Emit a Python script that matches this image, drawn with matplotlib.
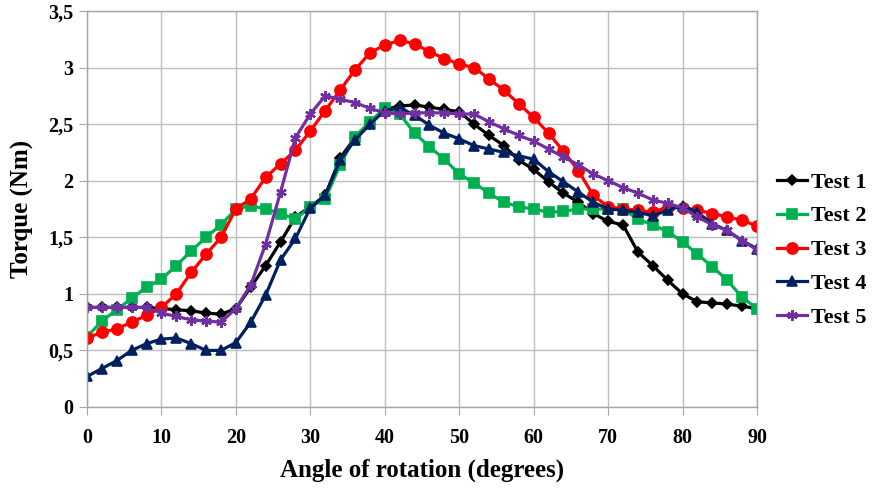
import matplotlib
matplotlib.use("Agg")
import matplotlib.pyplot as plt
from matplotlib.ticker import FuncFormatter, MultipleLocator

angles = list(range(0, 91, 2))

test1 = [0.88, 0.88, 0.88, 0.88, 0.88, 0.87, 0.86, 0.85, 0.83, 0.82,
         0.87, 1.06, 1.25, 1.46, 1.68, 1.77, 1.87, 2.20, 2.38, 2.50,
         2.63, 2.66, 2.67, 2.65, 2.63, 2.61, 2.50, 2.40, 2.31, 2.18,
         2.10, 1.99, 1.89, 1.81, 1.71, 1.64, 1.61, 1.37, 1.25, 1.12,
         1.00, 0.93, 0.92, 0.91, 0.89, 0.87]
test2 = [0.62, 0.76, 0.86, 0.96, 1.06, 1.13, 1.25, 1.38, 1.50, 1.61,
         1.75, 1.78, 1.75, 1.71, 1.66, 1.77, 1.84, 2.14, 2.39, 2.52,
         2.64, 2.59, 2.42, 2.30, 2.19, 2.06, 1.98, 1.89, 1.81, 1.77,
         1.75, 1.72, 1.73, 1.75, 1.75, 1.75, 1.75, 1.66, 1.61, 1.55,
         1.46, 1.35, 1.24, 1.12, 0.97, 0.87]
test3 = [0.61, 0.66, 0.69, 0.75, 0.81, 0.88, 1.00, 1.19, 1.35, 1.50,
         1.75, 1.84, 2.03, 2.15, 2.27, 2.44, 2.62, 2.80, 2.98, 3.13,
         3.20, 3.24, 3.21, 3.14, 3.08, 3.03, 3.00, 2.90, 2.80, 2.68,
         2.56, 2.42, 2.26, 2.09, 1.87, 1.77, 1.75, 1.74, 1.72, 1.77,
         1.76, 1.74, 1.71, 1.68, 1.65, 1.60]
test4 = [0.27, 0.34, 0.41, 0.50, 0.56, 0.60, 0.61, 0.56, 0.50, 0.50,
         0.57, 0.75, 0.99, 1.30, 1.49, 1.76, 1.87, 2.18, 2.36, 2.50,
         2.62, 2.645, 2.58, 2.49, 2.42, 2.37, 2.31, 2.28, 2.25, 2.22,
         2.19, 2.08, 1.99, 1.90, 1.81, 1.75, 1.74, 1.72, 1.69, 1.74,
         1.78, 1.72, 1.62, 1.56, 1.47, 1.40]
test5 = [0.88, 0.88, 0.88, 0.88, 0.88, 0.83, 0.80, 0.77, 0.76, 0.75,
         0.87, 1.08, 1.44, 1.90, 2.38, 2.59, 2.75, 2.72, 2.69, 2.64,
         2.60, 2.59, 2.60, 2.60, 2.60, 2.59, 2.59, 2.52, 2.46, 2.40,
         2.35, 2.28, 2.21, 2.14, 2.06, 2.00, 1.94, 1.89, 1.83, 1.80,
         1.76, 1.68, 1.61, 1.56, 1.47, 1.39]

labels = ["Test 1", "Test 2", "Test 3", "Test 4", "Test 5"]
series = [test1, test2, test3, test4, test5]
colors = ["#000000", "#00B050", "#FF0000", "#002060", "#7030A0"]
markers = ["D", "s", "o", "^", (6, 2, 0)]
msizes = [5.5, 7, 8, 7, 7.5]

plt.rcParams["font.family"] = ["Liberation Serif", "DejaVu Serif"]
plt.rcParams["font.weight"] = "bold"

fig = plt.figure(figsize=(8.77, 4.94), dpi=100)
ax = fig.add_axes([87 / 877, 1 - 407 / 494, (757 - 87) / 877, (407 - 11) / 494])

for y, lab, c, m, ms in zip(series, labels, colors, markers, msizes):
    ax.plot(angles, y, color=c, marker=m, markersize=ms, linewidth=2.3,
            label=lab, markeredgewidth=1.2 if m != (6, 2, 0) else 1.7,
            markeredgecolor=c)

ax.set_xlim(0, 90)
ax.set_ylim(0, 3.5)
ax.xaxis.set_major_locator(MultipleLocator(10))
ax.yaxis.set_major_locator(MultipleLocator(0.5))
ax.yaxis.set_major_formatter(FuncFormatter(
    lambda v, p: ("%g" % v).replace(".", ",")))
ax.grid(True, color="#BDBDBD", linewidth=1.0)
ax.set_axisbelow(True)
for s in ax.spines.values():
    s.set_color("#A6A6A6")
    s.set_linewidth(1.0)
ax.tick_params(axis="both", direction="out", length=6, color="#A6A6A6",
               labelsize=14.5, pad=4)
ax.tick_params(axis="x", pad=9)
for t in ax.get_xticklabels() + ax.get_yticklabels():
    t.set_fontweight("bold")

ax.set_xlabel("Angle of rotation (degrees)", fontsize=18, fontweight="bold",
              labelpad=8)
ax.set_ylabel("Torque (Nm)", fontsize=18, fontweight="bold", labelpad=10)

leg = fig.legend(*ax.get_legend_handles_labels(), loc="center left",
                 bbox_to_anchor=(777 / 877, (494 - 250) / 494),
                 bbox_transform=fig.transFigure, frameon=False,
                 prop={"size": 16, "weight": "bold"}, handlelength=1.35,
                 handletextpad=0.2, labelspacing=0.6, borderaxespad=0,
                 borderpad=0)

fig.savefig("out.png", dpi=100)
